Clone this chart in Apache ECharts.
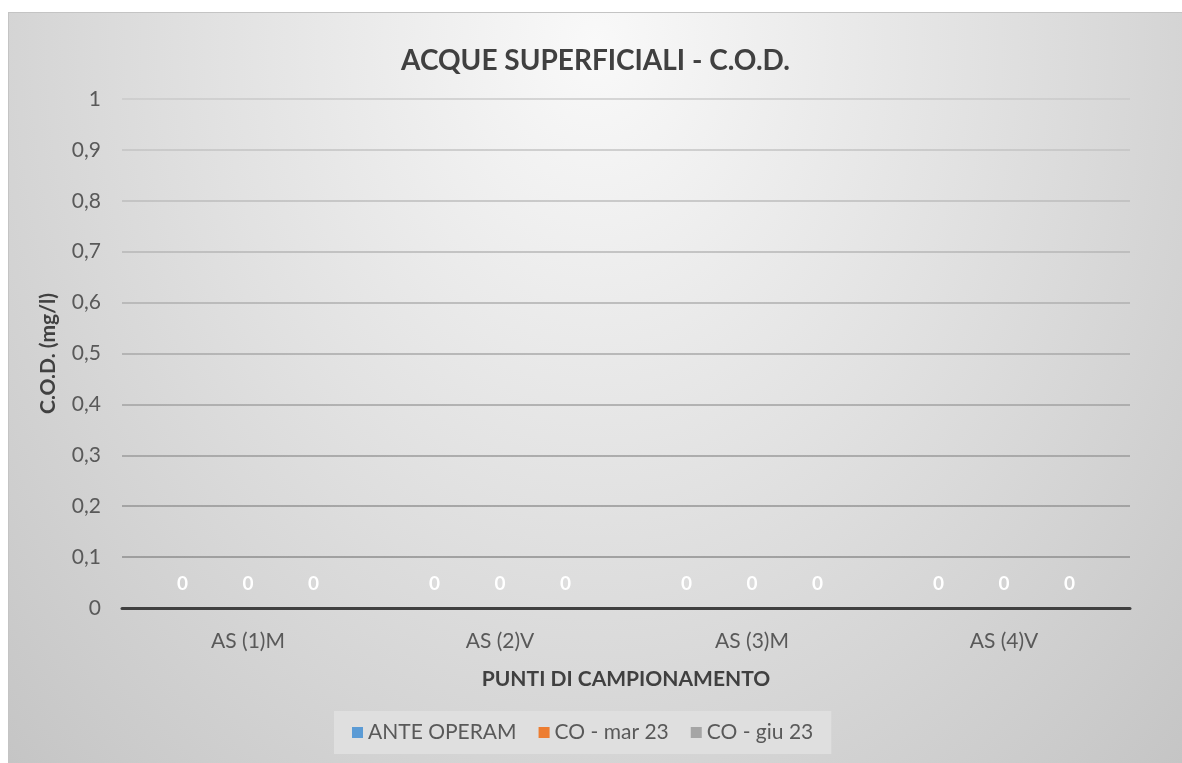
<!DOCTYPE html>
<html>
<head>
<meta charset="utf-8">
<script src="https://cdn.jsdelivr.net/npm/echarts@6/dist/echarts.min.js"></script>
<style>
  html, body { margin: 0; padding: 0; background: #fff; width: 1182px; height: 763px; overflow: hidden; }
  #chart {
    position: absolute; left: 8px; top: 12px; width: 1174px; height: 751px;
    border-top: 1px solid #c4c4c4; border-left: 1px solid #c4c4c4; box-sizing: border-box;
    background: radial-gradient(ellipse farthest-corner at 50% 4%, #f9f9f9 0%, #e2e2e2 45%, #c5c5c5 100%);
  }
</style>
</head>
<body>
<div id="chart"></div>
<script>
// punti di campionamento
const categories = ['AS (1)M', 'AS (2)V', 'AS (3)M', 'AS (4)V']
const seriesNames = ['ANTE OPERAM', 'CO - mar 23', 'CO - giu 23']
const anteOperam = [0, 0, 0, 0]
const coMar23 = [0, 0, 0, 0]
const coGiu23 = [0, 0, 0, 0]
const colors = ['#5b9bd5', '#ed7d31', '#a5a5a5']

const font = 'Lato, "Open Sans", sans-serif'
let myChart = echarts.init(document.getElementById('chart'))

const makeSeries = (name, data, i) => {
    return {
        name: name,
        type: 'bar',
        data: data,
        barGap: '0%',
        barCategoryGap: '22%',
        itemStyle: { color: colors[i] },
        label: {
            show: true,
            position: 'top',
            distance: 15,
            color: '#ffffff',
            fontSize: 19,
            fontFamily: font,
            fontWeight: 'bold'
        }
    }
}

const options = {
    textStyle: { fontFamily: font },
    title: {
        text: 'ACQUE SUPERFICIALI - C.O.D.',
        left: 'center',
        top: 29,
        textStyle: { fontSize: 28, fontWeight: 'bold', color: '#404040', fontFamily: font }
    },
    grid: { left: 113, right: 52, top: 86, bottom: 155, containLabel: false },
    legend: {
        data: seriesNames,
        bottom: 9,
        left: 325,
        icon: 'rect',
        itemWidth: 11,
        itemHeight: 11,
        itemGap: 22,
        padding: [11, 18],
        backgroundColor: '#dfdfdf',
        textStyle: { fontSize: 21, color: '#595959', fontFamily: font }
    },
    xAxis: {
        type: 'category',
        data: categories,
        name: 'PUNTI DI CAMPIONAMENTO',
        nameLocation: 'middle',
        nameGap: 61,
        nameTextStyle: { fontSize: 21, fontWeight: 'bold', color: '#404040' },
        axisLine: { lineStyle: { color: '#404040', width: 3 } },
        axisTick: { show: false },
        axisLabel: { fontSize: 21, color: '#595959', margin: 23 }
    },
    yAxis: {
        type: 'value',
        min: 0,
        max: 1,
        interval: 0.1,
        name: 'C.O.D. (mg/l)',
        nameLocation: 'middle',
        nameRotate: 90,
        nameGap: 63,
        nameTextStyle: { fontSize: 21, fontWeight: 'bold', color: '#404040' },
        axisLabel: {
            fontSize: 21,
            color: '#595959',
            margin: 21,
            formatter: v => String(Math.round(v * 10) / 10).replace('.', ',')
        },
        splitLine: {
            lineStyle: {
                width: 1.5,
                color: new echarts.graphic.LinearGradient(0, 86, 0, 596, [
                    { offset: 0, color: '#cacaca' },
                    { offset: 1, color: '#868686' }
                ], true)
            }
        }
    },
    series: [
        makeSeries(seriesNames[0], anteOperam, 0),
        makeSeries(seriesNames[1], coMar23, 1),
        makeSeries(seriesNames[2], coGiu23, 2)
    ]
}
myChart.setOption(options)
</script>
</body>
</html>
